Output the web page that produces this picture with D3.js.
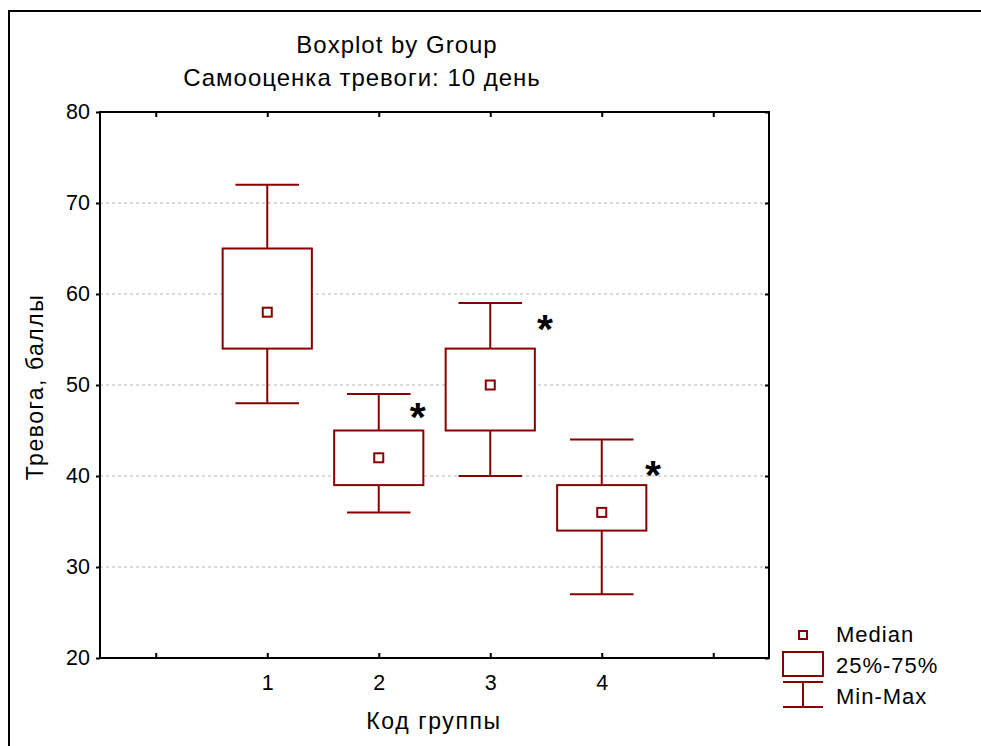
<!DOCTYPE html>
<html><head><meta charset="utf-8">
<script src="https://cdn.jsdelivr.net/npm/d3@7"></script>
<style>body{margin:0;background:#fff}svg{display:block;font-family:"Liberation Sans",Arial,sans-serif}</style>
</head><body><svg id="c" width="981" height="746"></svg>
<script>
const groups = [1, 2, 3, 4];
const mins = [48, 36, 40, 27];
const q1s = [54, 39, 45, 34];
const medians = [58, 42, 50, 36];
const q3s = [65, 45, 54, 39];
const maxs = [72, 49, 59, 44];
const yTicks = [20, 30, 40, 50, 60, 70, 80];
const xTickPositions = [0, 1, 2, 3, 4, 5];
const starGroups = [2, 3, 4];
const starOffsets = [0.35, 0.49, 0.46];
const starValues = [47.3, 56.9, 40.9];
const titleLines = ["Boxplot by Group", "Самооценка тревоги: 10 день"];
const xLabel = "Код группы";
const yLabel = "Тревога, баллы";
const legendLabels = ["Median", "25%-75%", "Min-Max"];

const col = "#880000";
const svg = d3.select("#c");
const L = 100, R = 769, T = 112, B = 658;
const x = d3.scaleLinear().domain([-0.5, 5.5]).range([L, R]);
const y = d3.scaleLinear().domain([20, 80]).range([B, T]);

// outer frame
svg.append("rect").attr("x", 9).attr("y", 11).attr("width", 1000).attr("height", 800)
  .attr("fill", "none").attr("stroke", "#000").attr("stroke-width", 2);

// grid
svg.append("g").selectAll("line").data(yTicks.filter(d => d > 20 && d < 80)).join("line")
  .attr("x1", L).attr("x2", R).attr("y1", d => y(d)).attr("y2", d => y(d))
  .attr("stroke", "#b4b4b4").attr("stroke-width", 1.2).attr("stroke-dasharray", "3,3");

// axes
const yAxis = d3.axisLeft(y).tickValues(yTicks).tickSize(4).tickPadding(6);
svg.append("g").attr("transform", `translate(${L},0)`).call(yAxis);
const yAxisR = d3.axisRight(y).tickValues(yTicks).tickSize(-4).tickFormat("");
svg.append("g").attr("transform", `translate(${R},0)`).call(yAxisR);
const xAxis = d3.axisBottom(x).tickValues(xTickPositions).tickSize(-5).tickPadding(17)
  .tickFormat(d => groups.includes(d) ? d : "");
svg.append("g").attr("transform", `translate(0,${B})`).call(xAxis);
const xAxisT = d3.axisTop(x).tickValues(xTickPositions).tickSize(-5).tickFormat("");
svg.append("g").attr("transform", `translate(0,${T})`).call(xAxisT);
svg.selectAll(".domain").remove();
svg.selectAll(".tick line").attr("stroke", "#000").attr("stroke-width", 2);
svg.selectAll(".tick text").attr("font-size", 21.5).attr("fill", "#000")
  .attr("font-family", '"Liberation Sans",Arial,sans-serif');
svg.append("rect").attr("x", L).attr("y", T).attr("width", R - L).attr("height", B - T)
  .attr("fill", "none").attr("stroke", "#000").attr("stroke-width", 2);

// boxes
const bw = 0.8, cw = 0.57, ms = 9;
const data = groups.map((g, i) => ({g, min: mins[i], q1: q1s[i], med: medians[i], q3: q3s[i], max: maxs[i]}));
const bx = svg.append("g").selectAll("g").data(data).join("g");
bx.append("line").attr("x1", d => x(d.g)).attr("x2", d => x(d.g)).attr("y1", d => y(d.max)).attr("y2", d => y(d.min))
  .attr("stroke", col).attr("stroke-width", 2);
bx.append("line").attr("x1", d => x(d.g - cw / 2)).attr("x2", d => x(d.g + cw / 2)).attr("y1", d => y(d.max)).attr("y2", d => y(d.max))
  .attr("stroke", col).attr("stroke-width", 2);
bx.append("line").attr("x1", d => x(d.g - cw / 2)).attr("x2", d => x(d.g + cw / 2)).attr("y1", d => y(d.min)).attr("y2", d => y(d.min))
  .attr("stroke", col).attr("stroke-width", 2);
bx.append("rect").attr("x", d => x(d.g - bw / 2)).attr("width", d => x(d.g + bw / 2) - x(d.g - bw / 2))
  .attr("y", d => y(d.q3)).attr("height", d => y(d.q1) - y(d.q3))
  .attr("fill", "#fff").attr("stroke", col).attr("stroke-width", 2);
bx.append("rect").attr("x", d => x(d.g) - ms / 2).attr("y", d => y(d.med) - ms / 2).attr("width", ms).attr("height", ms)
  .attr("fill", "#fff").attr("stroke", col).attr("stroke-width", 2);

// asterisks
svg.append("g").selectAll("text").data(starGroups).join("text")
  .attr("x", (g, i) => x(g + starOffsets[i])).attr("y", (g, i) => y(starValues[i]) + 21)
  .attr("text-anchor", "middle").attr("font-size", 41).attr("font-weight", "bold").text("*");

// titles
svg.append("text").attr("x", 397).attr("y", 53).attr("text-anchor", "middle").attr("font-size", 24).attr("letter-spacing", 1).text(titleLines[0]);
svg.append("text").attr("x", 362).attr("y", 86).attr("text-anchor", "middle").attr("font-size", 24).attr("letter-spacing", 1).text(titleLines[1]);
svg.append("text").attr("x", 434).attr("y", 729).attr("text-anchor", "middle").attr("font-size", 23).attr("letter-spacing", 1.6).text(xLabel);
svg.append("text").attr("transform", "translate(43,387) rotate(-90)").attr("text-anchor", "middle").attr("font-size", 23).attr("letter-spacing", 1.5).text(yLabel);

// legend
const lg = svg.append("g");
lg.append("rect").attr("x", 799).attr("y", 631).attr("width", 8).attr("height", 8).attr("fill", "#fff").attr("stroke", col).attr("stroke-width", 2);
lg.append("rect").attr("x", 783).attr("y", 652).attr("width", 40).attr("height", 24).attr("fill", "#fff").attr("stroke", col).attr("stroke-width", 2);
lg.append("line").attr("x1", 783).attr("x2", 823).attr("y1", 682).attr("y2", 682).attr("stroke", col).attr("stroke-width", 2);
lg.append("line").attr("x1", 783).attr("x2", 823).attr("y1", 707).attr("y2", 707).attr("stroke", col).attr("stroke-width", 2);
lg.append("line").attr("x1", 803).attr("x2", 803).attr("y1", 682).attr("y2", 707).attr("stroke", col).attr("stroke-width", 2);
lg.selectAll("text").data(legendLabels).join("text")
  .attr("x", 836).attr("y", (d, i) => 642 + i * 31).attr("font-size", 22).attr("letter-spacing", 1).text(d => d);
</script></body></html>
